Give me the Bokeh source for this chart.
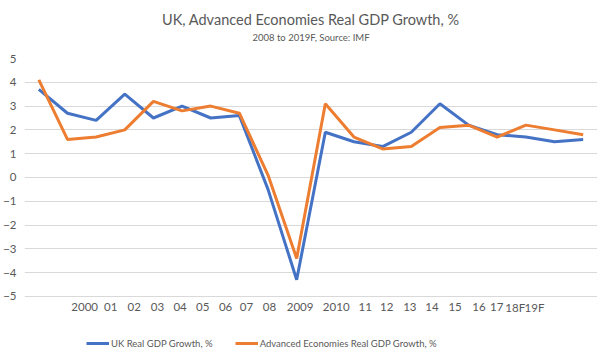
from bokeh.plotting import figure
from bokeh.models import FixedTicker, Legend, LegendItem, Title, Range1d
from bokeh.core.properties import value
from bokeh.embed import file_html
from bokeh.resources import INLINE

# ---- data ----
years = ["2000", "2001", "2002", "2003", "2004", "2005", "2006", "2007", "2008", "2009",
         "2010", "2011", "2012", "2013", "2014", "2015", "2016", "2017", "2018F", "2019F"]
uk_growth = [3.7, 2.7, 2.4, 3.5, 2.5, 3.0, 2.5, 2.6, -0.5, -4.3,
             1.9, 1.5, 1.3, 1.9, 3.1, 2.2, 1.8, 1.7, 1.5, 1.6]
adv_growth = [4.1, 1.6, 1.7, 2.0, 3.2, 2.8, 3.0, 2.7, 0.1, -3.4,
              3.1, 1.7, 1.2, 1.3, 2.1, 2.2, 1.7, 2.2, 2.0, 1.8]
tick_labels = ["2000", "01", "02", "03", "04", "05", "06", "07", "08", "2009",
               "2010", "11", "12", "13", "14", "15", "16", "17", "18F", "19F"]
y_ticks = [-5, -4, -3, -2, -1, 0, 1, 2, 3, 4, 5]

# ---- layout (where the category labels sit along the axis, as in the source) ----
label_pos = [1.60, 2.51, 3.33, 4.14, 4.93, 5.72, 6.52, 7.25, 8.05, 9.12,
             10.38, 11.39, 12.14, 12.95, 13.72, 14.53, 15.36, 15.98, 16.63, 17.30]

FONT = "Lato"
GREY = "#595959"

x = list(range(len(years)))
y_min, y_max = min(y_ticks), max(y_ticks)
# room under the lowest gridline for the category labels and the legend (in y units)
room_below = 2.27

p = figure(frame_width=573, frame_height=292, output_backend="svg", toolbar_location=None,
           x_range=Range1d(-0.5, len(years) - 0.5),
           y_range=Range1d(y_min - room_below, y_max),
           min_border_left=0, min_border_right=0, min_border_top=0, min_border_bottom=0)
p.outline_line_color = None
p.background_fill_color = "white"
p.border_fill_color = "white"

# titles (spacers are blank titles that only reserve room)
gap_below_sub = Title(text=" ", text_font_size="1px", standoff=12)
sub = Title(text="2008 to 2019F, Source: IMF", align="center", text_font=FONT,
            text_font_size="9.5px", text_color=GREY, text_font_style="normal",
            standoff=2)
main = Title(text="UK, Advanced Economies Real GDP Growth, %", align="center",
             text_font=FONT, text_font_size="14.5px", text_color=GREY,
             text_font_style="normal", standoff=2)
gap_top = Title(text=" ", text_font_size="1px", standoff=4)
p.add_layout(gap_below_sub, "above")
p.add_layout(sub, "above")
p.add_layout(main, "above")
p.add_layout(gap_top, "above")

r1 = p.line(x, uk_growth, line_color="#4472C4", line_width=3)
r2 = p.line(x, adv_growth, line_color="#ED7D31", line_width=3)

# category labels under the lowest gridline
p.text(x=label_pos, y=[y_min] * len(label_pos), text=tick_labels,
       text_align="center", text_baseline="middle", y_offset=11,
       text_font=value(FONT), text_font_size="11.5px", text_color=GREY)

p.xaxis.visible = False
p.yaxis.ticker = FixedTicker(ticks=y_ticks)
ax = p.yaxis[0]
ax.axis_line_color = None
ax.major_tick_line_color = None
ax.minor_tick_line_color = None
ax.major_tick_out = 0
ax.major_tick_in = 0
ax.minor_tick_out = 0
ax.minor_tick_in = 0
ax.major_label_text_font = FONT
ax.major_label_text_font_size = "11.5px"
ax.major_label_text_color = GREY
ax.major_label_standoff = 8

p.xgrid.grid_line_color = None
p.ygrid.ticker = FixedTicker(ticks=y_ticks)
p.ygrid.grid_line_color = "#d9d9d9"
p.ygrid.grid_line_width = 1

legend = Legend(items=[LegendItem(label="UK Real GDP Growth, %", renderers=[r1]),
                       LegendItem(label="Advanced Economies Real GDP Growth, %", renderers=[r2])],
                orientation="horizontal", location=(62, 0),
                label_text_font=FONT, label_text_font_size="9.5px", label_text_color=GREY,
                glyph_width=23, glyph_height=14, label_height=14, label_standoff=2,
                spacing=22, padding=0, margin=0,
                border_line_color=None, background_fill_alpha=0)
p.add_layout(legend, "center")

open("out.html", "w").write(file_html(p, INLINE))
